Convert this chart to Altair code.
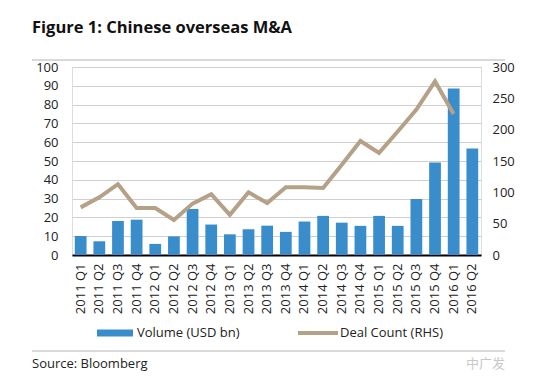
import altair as alt
import pandas as pd

quarters = ["2011 Q1", "2011 Q2", "2011 Q3", "2011 Q4",
            "2012 Q1", "2012 Q2", "2012 Q3", "2012 Q4",
            "2013 Q1", "2013 Q2", "2013 Q3", "2013 Q4",
            "2014 Q1", "2014 Q2", "2014 Q3", "2014 Q4",
            "2015 Q1", "2015 Q2", "2015 Q3", "2015 Q4",
            "2016 Q1", "2016 Q2"]
volume = [10.1, 7.3, 18.1, 18.8, 5.9, 9.9, 24.5, 16.2, 11.0, 13.7, 15.6, 12.3,
          17.8, 20.8, 17.2, 15.5, 20.8, 15.5, 29.8, 49.2, 88.5, 56.7]
deals = [76, 92, 113, 75, 75, 56, 82, 97, 64, 100, 83, 108,
         108, 107, 144, 182, 163, 197, 232, 277, 225, None]

left_ticks = [0, 10, 20, 30, 40, 50, 60, 70, 80, 90, 100]
right_ticks = [0, 50, 100, 150, 200, 250, 300]

BAR = "#3a8dcb"
LINE = "#b5a088"
FONT = "Open Sans"
TXT = "#222222"

df = pd.DataFrame({"quarter": quarters, "volume": volume, "deals": deals})

xenc = alt.X("quarter:N", sort=quarters, title=None,
             scale=alt.Scale(paddingInner=0.37, paddingOuter=0.15),
             axis=alt.Axis(labelAngle=-90, labelPadding=8, ticks=False,
                           domainColor="#000000", domainWidth=2,
                           labelFont=FONT, labelFontSize=13, labelColor=TXT))

bars = alt.Chart(df).mark_bar(color=BAR).encode(
    x=xenc,
    y=alt.Y("volume:Q", title=None,
            scale=alt.Scale(domain=[0, 100], nice=False),
            axis=alt.Axis(values=left_ticks, grid=True, gridColor="#cfcfcf",
                          gridWidth=1, domain=False, ticks=False,
                          labelPadding=14, labelFont=FONT, labelFontSize=13,
                          labelColor=TXT, orient="left")),
)

line = alt.Chart(df).mark_line(color=LINE, strokeWidth=4, strokeJoin="miter").encode(
    x=alt.X("quarter:N", sort=quarters),
    y=alt.Y("deals:Q", title=None,
            scale=alt.Scale(domain=[0, 300], nice=False),
            axis=alt.Axis(values=right_ticks, grid=False, domain=False,
                          ticks=False, labelPadding=11, labelFont=FONT,
                          labelFontSize=13, labelColor=TXT, orient="right",
                          labelAlign="left")),
)

one = pd.DataFrame({"k": [0]})

def label(text, x, y, size=13, weight="normal", color=TXT, align="left", font=FONT):
    return alt.Chart(one).mark_text(
        text=text, align=align, baseline="middle", fontSize=size,
        fontWeight=weight, color=color, font=font
    ).encode(x=alt.value(x), y=alt.value(y))

def hline(x1, x2, y, color, width):
    return alt.Chart(one).mark_rule(color=color, strokeWidth=width).encode(
        x=alt.value(x1), x2=alt.value(x2), y=alt.value(y))

title = label("Figure 1: Chinese overseas M&A", -40, -39, size=16.5, weight="bold",
              color="#111111")
top_rule = hline(-40, 433, -7, "#cccccc", 1.5)
bottom_rule = hline(-40, 433, 284, "#cccccc", 1.5)
source = label("Source: Bloomberg", -40, 297, size=13)
mark = label("中广发", 433, 297, size=13, color="#c8c8c8", align="right",
             font="Noto Sans CJK SC")

leg_bar = alt.Chart(one).mark_rect(color=BAR).encode(
    x=alt.value(25), x2=alt.value(61), y=alt.value(262.5), y2=alt.value(269.5))
leg_bar_t = label("Volume (USD bn)", 65, 266)
leg_line = hline(226, 266, 266, LINE, 4)
leg_line_t = label("Deal Count (RHS)", 268, 266)

chart = alt.layer(
    bars, line, title, top_rule, bottom_rule, source, mark,
    leg_bar, leg_bar_t, leg_line, leg_line_t
).resolve_scale(y="independent").properties(
    width=409, height=188,
    autosize=alt.AutoSizeParams(type="none"),
    padding={"left": 64, "top": 59, "right": 47, "bottom": 125},
).configure_view(stroke=None).configure(background="#ffffff")

chart.save("out.html", embed_options={"renderer": "svg", "actions": False})
